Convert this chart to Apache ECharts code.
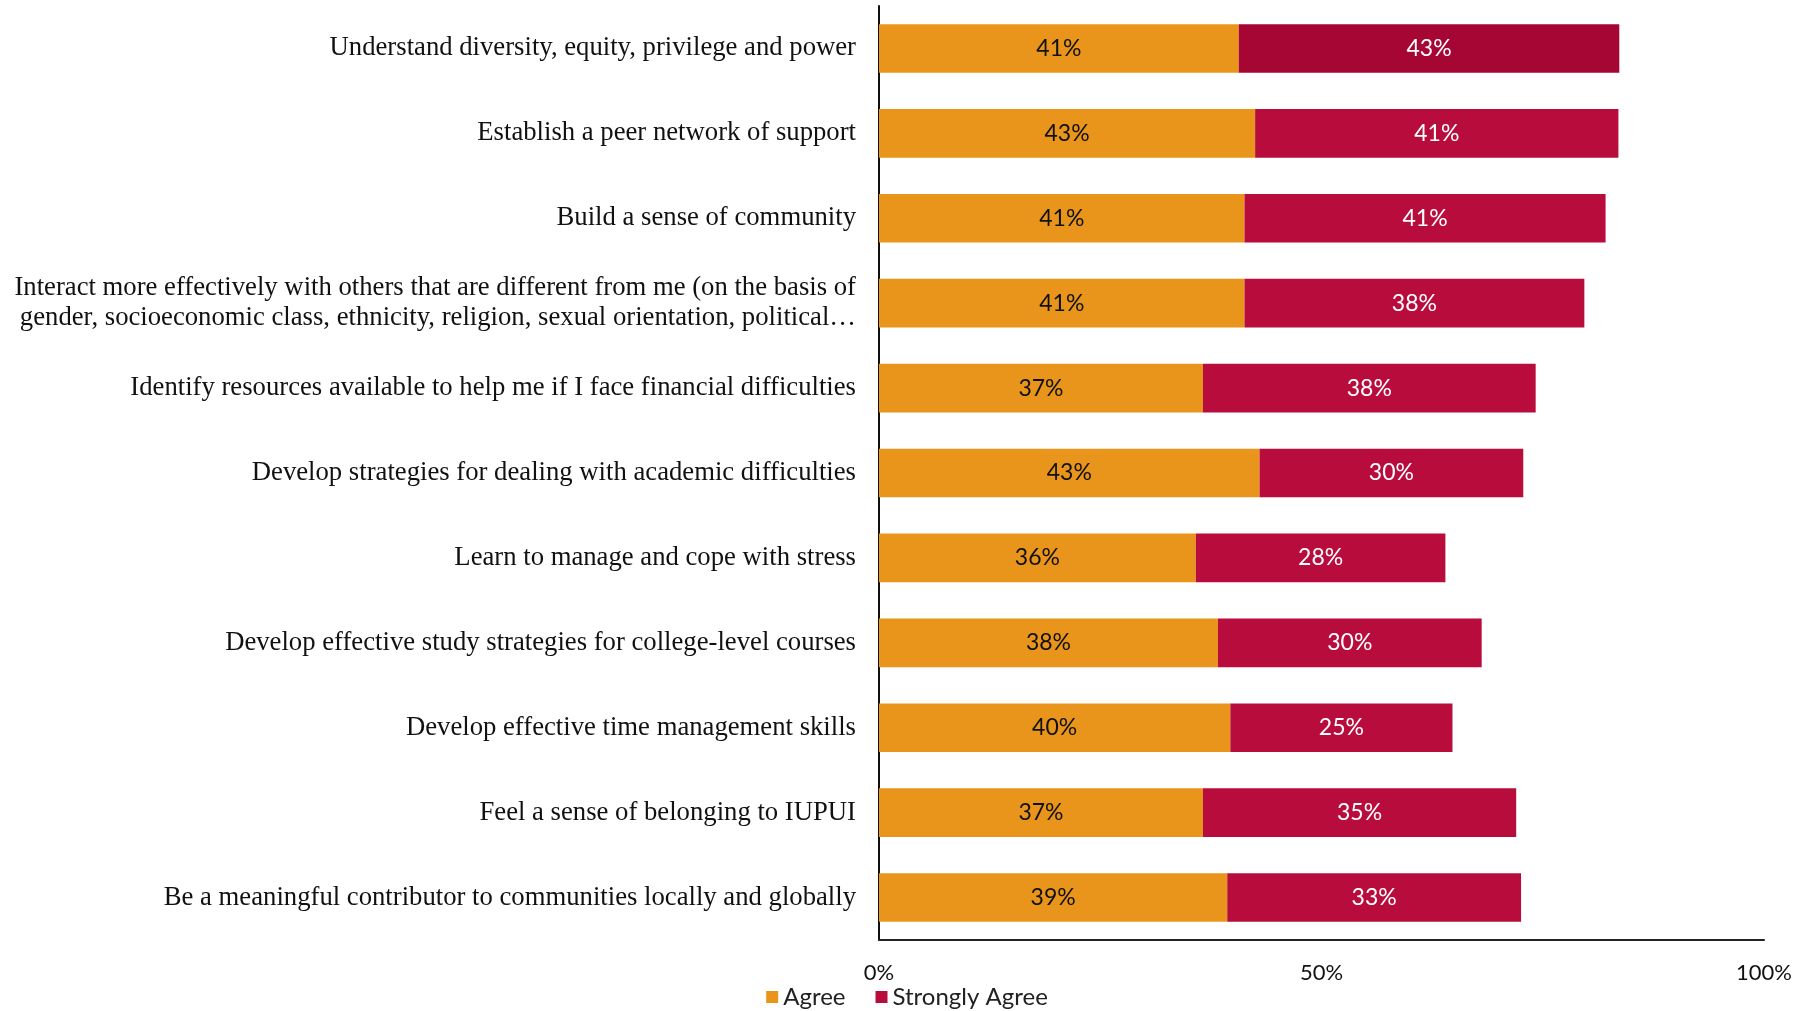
<!DOCTYPE html>
<html><head><meta charset="utf-8">
<script src="https://cdn.jsdelivr.net/npm/echarts@6/dist/echarts.min.js"></script>
<style>html,body{margin:0;padding:0;background:#fff}#c{width:1814px;height:1011px}</style>
</head><body><div id="c"></div>
<script>
const categories = [
  "Understand diversity, equity, privilege and power",
  "Establish a peer network of support",
  "Build a sense of community",
  "Interact more effectively with others that are different from me (on the basis of\ngender, socioeconomic class, ethnicity, religion, sexual orientation, political…",
  "Identify resources available to help me if I face financial difficulties",
  "Develop strategies for dealing with academic difficulties",
  "Learn to manage and cope with stress",
  "Develop effective study strategies for college-level courses",
  "Develop effective time management skills",
  "Feel a sense of belonging to IUPUI",
  "Be a meaningful contributor to communities locally and globally"
];
const agree = [40.65, 42.5, 41.3, 41.3, 36.6, 43.0, 35.8, 38.3, 39.7, 36.6, 39.35];
const stronglyAgree = [43.0, 41.05, 40.8, 38.4, 37.6, 29.8, 28.2, 29.8, 25.1, 35.4, 33.2];
const xTicks = [0, 50, 100];

const chart = echarts.init(document.getElementById('c'));
const saData = stronglyAgree.map((v, i) => i === 0 ? {value: v, itemStyle: {color: '#A60634'}} : v);
chart.setOption({
  animation: false,
  grid: {left: 879, right: 50, top: 6, bottom: 71, containLabel: false},
  legend: {
    data: ['Agree', 'Strongly Agree'], left: 'center', top: 980,
    itemWidth: 12, itemHeight: 12, itemGap: 30, icon: 'rect',
    textStyle: {fontFamily: 'Lato', fontSize: 24, color: '#222'}
  },
  xAxis: {
    type: 'value', min: 0, max: 100, interval: 50,
    axisLine: {show: true, lineStyle: {color: '#222', width: 2}},
    axisTick: {show: false}, splitLine: {show: false},
    axisLabel: {margin: 22, fontFamily: 'Lato', fontSize: 22, color: '#111',
      formatter: v => xTicks.includes(v) ? v + '%' : ''}
  },
  yAxis: {
    type: 'category', data: categories, inverse: true,
    axisLine: {show: true, lineStyle: {color: '#111', width: 2}},
    axisTick: {show: false},
    axisLabel: {margin: 23, fontFamily: 'Liberation Serif', fontSize: 26.7, color: '#111', lineHeight: 30, align: 'right'}
  },
  series: [
    {name: 'Agree', type: 'bar', stack: 's', data: agree, barCategoryGap: '42.7%',
      itemStyle: {color: '#E9951C'},
      label: {show: true, position: 'inside', fontFamily: 'Lato', fontSize: 23, color: '#111',
        formatter: p => Math.round(p.value) + '%'}},
    {name: 'Strongly Agree', type: 'bar', stack: 's', data: saData,
      itemStyle: {color: '#B80D3C'},
      label: {show: true, position: 'inside', fontFamily: 'Lato', fontSize: 23, color: '#fff',
        formatter: p => Math.round(p.value) + '%'}}
  ]
});
</script></body></html>
